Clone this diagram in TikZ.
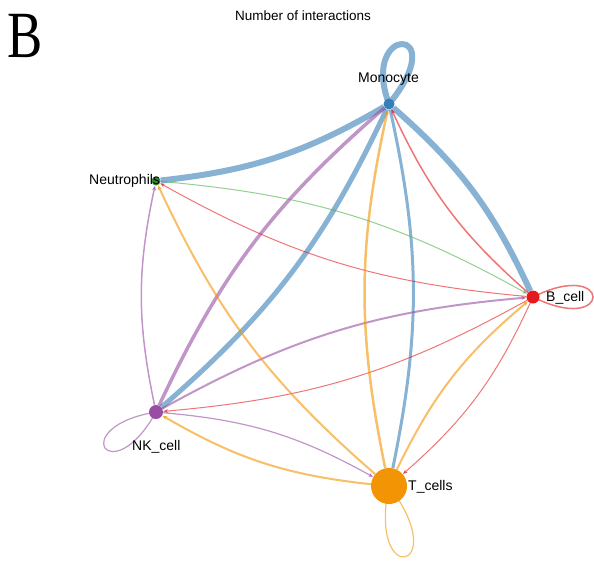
\documentclass[tikz,border=0pt]{standalone}
\usepackage{fontspec}
\usetikzlibrary{arrows.meta,backgrounds}
\newfontfamily\labfont{Liberation Sans}
\newfontfamily\bigserif{Liberation Serif}
\definecolor{cB}{HTML}{E41A1C}
\definecolor{cM}{HTML}{377EB8}
\definecolor{cN}{HTML}{4DAF4A}
\definecolor{cNd}{HTML}{2E8B2E}
\definecolor{cK}{HTML}{984EA3}
\definecolor{cT}{HTML}{F29403}
\begin{document}
\begin{tikzpicture}[x=1pt,y=-1pt,
  dot/.style={circle,inner sep=0pt,draw=none},
  lab/.style={font=\labfont\fontsize{14}{16}\selectfont,inner sep=0pt,anchor=base west},
  lnk/.style={opacity=0.6},
  arrowed/.style={-{Stealth[length=5pt,width=4pt]}}]
\useasboundingbox (0,0) rectangle (594,560);
% title and panel letter
\node[inner sep=0pt,anchor=base west,font=\bigserif\fontsize{66}{70}\selectfont] (panel) at (7,57) {\scalebox{0.8}[1]{B}};
\node[inner sep=0pt,anchor=base west,font=\labfont\fontsize{13.5}{16}\selectfont] (title) at (235,20) {Number of interactions};
% cell nodes
\node[dot,fill=cM,minimum size=11pt] (mono) at (389,104) {};
\node[dot,fill=cNd,minimum size=9pt] (neu) at (156,181) {};
\node[dot,fill=cB,minimum size=13pt] (bc) at (533,297) {};
\node[dot,fill=cK,minimum size=14pt] (nk) at (156,412) {};
\node[dot,fill=cT,minimum size=36pt] (tc) at (389,486) {};
% labels
\node[lab] (lmono) at (358,82) {Monocyte};
\node[lab] (lneu) at (89,184) {Neutrophils};
\node[lab] (lbc) at (546,301) {B\_cell};
\node[lab] (lnk) at (132,450) {NK\_cell};
\node[lab] (ltc) at (408,490) {T\_cells};
\begin{scope}[on background layer]
% Monocyte (blue)
\draw[lnk,cM,line width=6pt] (mono) to[bend left=12] (neu);
\draw[lnk,cM,line width=6pt] (mono) to[bend left=12] (bc);
\draw[lnk,cM,line width=5pt] (mono) to[bend left=12] (nk);
\draw[lnk,cM,line width=3pt] (mono) to[bend left=12] (tc);
\draw[lnk,cM,line width=6pt] (mono.center) .. controls +(-30,-80) and +(65,-80) .. (mono.center);
% NK (purple)
\draw[lnk,cK,line width=3.5pt] (nk) to[bend left=12] (mono);
\draw[lnk,cK,line width=1.5pt,arrowed] (nk) to[bend left=12] (neu);
\draw[lnk,cK,line width=2pt,arrowed] (nk) to[bend left=12] (bc);
\draw[lnk,cK,line width=1.2pt,arrowed] (nk) to[bend left=12] (tc);
\draw[lnk,cK,line width=1.2pt] (nk.center) .. controls +(-45,81) and +(-91,15) .. (nk.center);
% Neutrophils (green)
\draw[lnk,cN,line width=1pt,arrowed] (neu) to[bend left=12] (bc);
% B cell (red)
\draw[lnk,cB,line width=1.5pt,arrowed] (bc) to[bend left=12] (mono);
\draw[lnk,cB,line width=1pt,arrowed] (bc) to[bend left=12] (neu);
\draw[lnk,cB,line width=1pt,arrowed] (bc) to[bend left=12] (nk);
\draw[lnk,cB,line width=1pt,arrowed] (bc) to[bend left=12] (tc);
\draw[lnk,cB,line width=1.5pt] (bc.center) .. controls +(80,-40) and +(80,40) .. (bc.center);
% T cells (orange)
\draw[lnk,cT,line width=2.5pt,arrowed] (tc) to[bend left=12] (mono);
\draw[lnk,cT,line width=2pt,arrowed] (tc) to[bend left=12] (neu);
\draw[lnk,cT,line width=2pt,arrowed] (tc) to[bend left=12] (nk);
\draw[lnk,cT,line width=2pt,arrowed] (tc) to[bend left=12] (bc);
\draw[lnk,cT,line width=1.2pt] (tc.center) .. controls +(65,85) and +(-22,104) .. (tc.center);
\end{scope}
\end{tikzpicture}
\end{document}
